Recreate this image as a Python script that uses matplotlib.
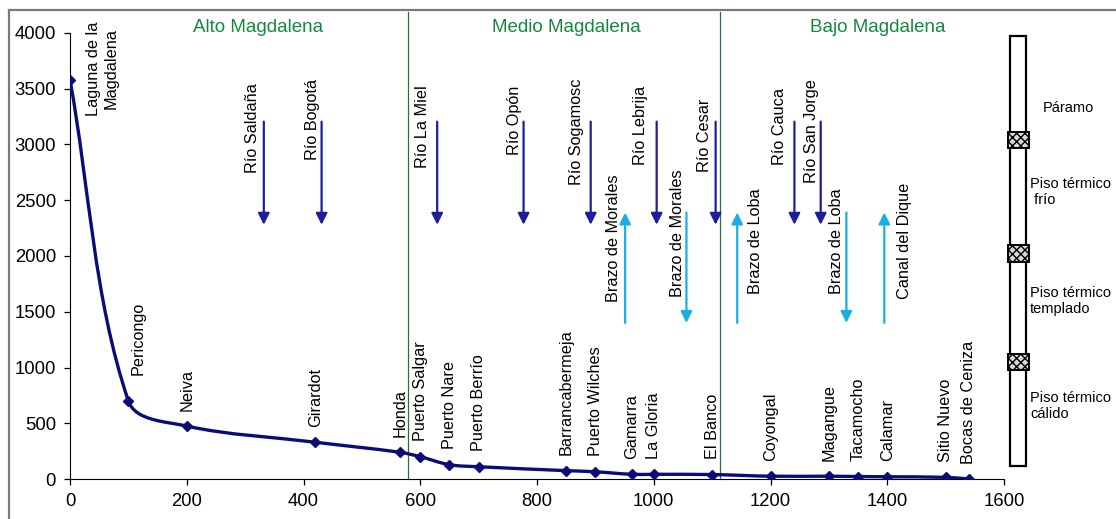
import numpy as np
import matplotlib.pyplot as plt
from matplotlib.path import Path
from matplotlib.patches import PathPatch, Rectangle
from matplotlib.lines import Line2D

plt.rcParams['font.family'] = ['Liberation Sans', 'DejaVu Sans']

# river profile: distance from source (km) and elevation (m)
places = ["Laguna de la\nMagdalena", "Pericongo", "Neiva", "Girardot", "Honda",
          "Puerto Salgar", "Puerto Nare", "Puerto Berrío", "Barrancabermeja",
          "Puerto Wilches", "Gamarra", "La Gloria", "El Banco", "Coyongal",
          "Magangue", "Tacamocho", "Calamar", "Sitio Nuevo", "Bocas de Ceniza"]
dist = [0, 100, 200, 420, 565, 600, 650, 700, 850, 900, 962, 1000, 1100,
        1200, 1301, 1350, 1400, 1500, 1540]
elev = [3580, 700, 475, 330, 240, 200, 128, 110, 75, 65, 42, 42, 40,
        25, 25, 22, 20, 15, 0]

# tributaries (dark blue arrows) and branches (light blue arrows)
tribs = ["Río Saldaña", "Río Bogotá", "Río La Miel", "Río Opón", "Río Sogamosc",
         "Río Lebrija", "Río Cesar", "Río Cauca", "Río San Jorge"]
trib_x = [332, 431, 629, 777, 892, 1005, 1106, 1241, 1286]
branches = ["Brazo de Morales", "Brazo de Morales", "Brazo de Loba",
            "Brazo de Loba", "Canal del Dique"]
branch_x = [951, 1056, 1143, 1330, 1395]
branch_up = [True, False, True, False, True]

regions = ["Alto Magdalena", "Medio Magdalena", "Bajo Magdalena"]
region_x = [322, 850, 1383]
bounds = [579, 1113]

floors = ["Páramo", "Piso térmico\n frío", "Piso térmico\ntemplado", "Piso térmico\ncálido"]
floor_marks = [3040, 2020, 1050]

# layout of labels (data units)
trib_lab_x = [312, 416, 603, 762, 868, 978, 1087, 1216, 1271]
trib_lab_y = [2744, 2861, 2789, 2906, 2637, 2816, 2753, 2816, 2655]
branch_lab_x = [931, 1041, 1174, 1313, 1430]
branch_lab_y = [1590, 1632, 1660, 1660, 1610]

navy = '#0c0c78'
dblue = '#1e1e9c'
lblue = '#18b0e4'
green_line = '#2a6e35'
green_txt = '#13893c'

fig = plt.figure(figsize=(11.16, 5.19), dpi=100)
W, H = 1116, 519
ax = fig.add_axes([70 / W, 40 / H, 934 / W, 446 / H])
ax.set_xlim(0, 1600)
ax.set_ylim(0, 4000)

# smooth line (Excel-like Bezier) computed in pixel-proportional space
sx, sy = 934 / 1600, 446 / 4000
P = np.column_stack([np.array(dist) * sx, np.array(elev) * sy])
n = len(P)
verts = [tuple(P[0])]
codes = [Path.MOVETO]
for i in range(n - 1):
    p0 = P[i - 1] if i > 0 else P[i]
    p1, p2 = P[i], P[i + 1]
    p3 = P[i + 2] if i + 2 < n else P[i + 1]
    seg = np.linalg.norm(p2 - p1)
    t1 = p2 - p0
    t2 = p3 - p1
    t1 = t1 / np.linalg.norm(t1)
    t2 = t2 / np.linalg.norm(t2)
    c1 = p1 + t1 * seg / 3
    c2 = p2 - t2 * seg / 3
    verts += [tuple(c1), tuple(c2), tuple(p2)]
    codes += [Path.CURVE4] * 3
verts = np.array(verts) / np.array([sx, sy])
ax.add_patch(PathPatch(Path(verts, codes), facecolor='none', edgecolor=navy,
                       lw=2.4, zorder=3, capstyle='round', joinstyle='round'))
ax.plot(dist, elev, linestyle='none', marker='D', ms=5, color=navy, zorder=4)

# place labels
for i, (name, x, y) in enumerate(zip(places, dist, elev)):
    if i == 0:
        ax.text(27, 4100, name, rotation=90, ha='left', va='top',
                multialignment='center', fontsize=11.7)
    elif i == 1:
        ax.annotate(name, (x, y), xytext=(7, 19), textcoords='offset points',
                    rotation=90, ha='center', va='bottom', fontsize=11.7)
    else:
        ax.annotate(name, (x, y), xytext=(0, 11), textcoords='offset points',
                    rotation=90, ha='center', va='bottom', fontsize=11.7)

# section boundaries and titles
for b in bounds:
    ax.plot([b, b], [0, 4190], color=green_line, lw=0.9, clip_on=False, zorder=1)
for name, x in zip(regions, region_x):
    ax.text(x, 4045, name, ha='center', va='center', fontsize=13.5, color=green_txt)

# tributary arrows
for name, x, lx, ly in zip(tribs, trib_x, trib_lab_x, trib_lab_y):
    ax.annotate('', xy=(x, 2280), xytext=(x, 3205),
                arrowprops=dict(arrowstyle='-|>', color=dblue, lw=1.6,
                                mutation_scale=17, shrinkA=0, shrinkB=0))
    ax.text(lx, ly, name, rotation=90, ha='center', va='bottom', fontsize=11.7)

for name, x, up, lx, ly in zip(branches, branch_x, branch_up, branch_lab_x, branch_lab_y):
    lo, hi = 1400, 2390
    start, end = (lo, hi) if up else (hi, lo)
    ax.annotate('', xy=(x, end), xytext=(x, start),
                arrowprops=dict(arrowstyle='-|>', color=lblue, lw=1.6,
                                mutation_scale=17, shrinkA=0, shrinkB=0))
    ax.text(lx, ly, name, rotation=90, ha='center', va='bottom', fontsize=11.7)

# axes styling
ax.spines['top'].set_visible(False)
ax.spines['right'].set_visible(False)
ax.set_xticks(np.arange(0, 1601, 200))
ax.set_yticks(np.arange(0, 4001, 500))
ax.tick_params(axis='both', labelsize=13.3, length=4, width=0.9)
ax.tick_params(axis='x', pad=6)
ax.tick_params(axis='y', pad=6)

# thermal floors bar
bax = fig.add_axes([1000 / W, 40 / H, 60 / W, 446 / H])
bax.set_xlim(0, 1)
bax.set_ylim(0, 4000)
bax.axis('off')
bax.add_patch(Rectangle((0.17, 117), 0.26, 3860, facecolor='white',
                        edgecolor='black', lw=1.6, clip_on=False))
for m in floor_marks:
    bax.add_patch(Rectangle((0.14, m - 75), 0.34, 150, facecolor='#d8d8d8',
                            edgecolor='black', lw=1.4, hatch='xxxx', clip_on=False))
fig.text(1068 / W, 1 - 108 / H, floors[0], ha='center', va='center', fontsize=10.5)
for name, yc in zip(floors[1:], [192, 301, 406]):
    fig.text(1030 / W, 1 - yc / H, name, ha='left', va='center', fontsize=10.5,
             linespacing=1.25)

# outer frame
fig.add_artist(Line2D([9 / W, 1], [1 - 10 / H, 1 - 10 / H], color='#7a7a7a', lw=1.6))
fig.add_artist(Line2D([9 / W, 9 / W], [0, 1 - 10 / H], color='#7a7a7a', lw=1.6))

fig.savefig('out.png', dpi=100)
